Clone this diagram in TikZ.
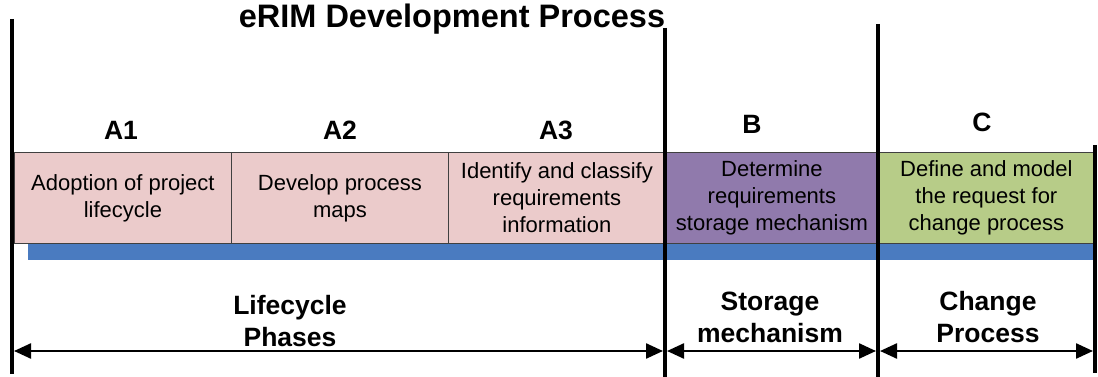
\documentclass[tikz,border=0pt]{standalone}
\usepackage{fontspec}
\setmainfont{Liberation Sans}
\usetikzlibrary{arrows.meta}
\definecolor{pinkc}{HTML}{EBCBCB}
\definecolor{purplec}{HTML}{907AAC}
\definecolor{greenc}{HTML}{B7CC88}
\definecolor{bluec}{HTML}{4A7BC0}
\definecolor{edgec}{HTML}{404040}
\tikzset{
  box/.style={draw=edgec, line width=0.8pt, inner sep=0pt, anchor=north west,
    minimum height=91pt, align=center, font=\fontsize{22}{27}\selectfont},
  divider/.style={line width=3.6pt, black},
  span/.style={line width=2.4pt, {Triangle[length=17pt,width=15pt]}-{Triangle[length=17pt,width=15pt]}},
  lab/.style={font=\bfseries\fontsize{26.5}{30}\selectfont},
  phase/.style={font=\bfseries\fontsize{26.5}{32}\selectfont, align=center}
}
\begin{document}
\begin{tikzpicture}[x=1pt,y=-1pt]
\useasboundingbox (0,0) rectangle (1098,377);
% title
\node[font=\bfseries\fontsize{32.5}{34}\selectfont] (title) at (452,19) {eRIM Development Process};
% blue bar
\node[fill=bluec, inner sep=0pt, minimum width=1066pt, minimum height=17pt, anchor=north west] (bar) at (28,243) {};
% boxes
\node[box, fill=pinkc, minimum width=217pt] (a1) at (14,152) {Adoption of project\\lifecycle};
\node[box, fill=pinkc, minimum width=217pt] (a2) at (231,152) {Develop process\\maps};
\node[box, fill=pinkc, minimum width=217pt] (a3) at (448,152) {Identify and classify\\requirements\\information};
\node[box, fill=purplec, minimum width=213pt] (b) at (665,152) {Determine\\requirements\\storage mechanism};
\node[box, fill=greenc, minimum width=216pt] (c) at (878,152) {Define and model\\the request for\\change process};
% labels
\node[lab] (la1) at (121,130) {A1};
\node[lab] (la2) at (340,130) {A2};
\node[lab] (la3) at (556,130) {A3};
\node[lab] (lb) at (752,124) {B};
\node[lab] (lc) at (982,122) {C};
% dividers
\coordinate (d1t) at (12,19);   \coordinate (d1b) at (12,374);
\coordinate (d2t) at (665,28);  \coordinate (d2b) at (665,377);
\coordinate (d3t) at (878,24);  \coordinate (d3b) at (878,377);
\coordinate (d4t) at (1095,145); \coordinate (d4b) at (1095,373);
\draw[divider] (d1t) -- (d1b);
\draw[divider] (d2t) -- (d2b);
\draw[divider] (d3t) -- (d3b);
\draw[divider] (d4t) -- (d4b);
% spans
\coordinate (s1l) at (14,351); \coordinate (s1r) at (663,351);
\coordinate (s2l) at (667,351); \coordinate (s2r) at (876,351);
\coordinate (s3l) at (880,351); \coordinate (s3r) at (1093,351);
\draw[span] (s1l) -- (s1r);
\draw[span] (s2l) -- (s2r);
\draw[span] (s3l) -- (s3r);
% phase labels
\node[phase] (p1) at (290,321) {Lifecycle\\Phases};
\node[phase] (p2) at (770,317) {Storage\\mechanism};
\node[phase] (p3) at (988,317) {Change\\Process};
\end{tikzpicture}
\end{document}
